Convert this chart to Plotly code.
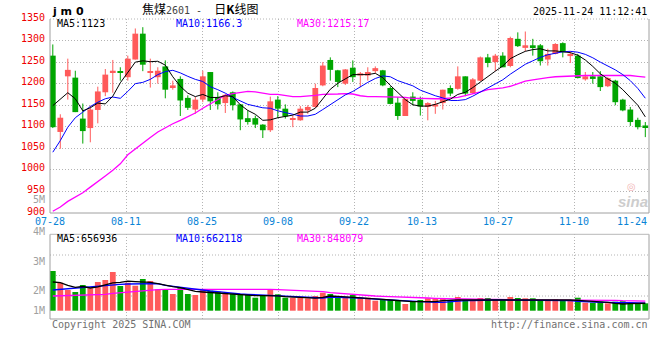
import plotly.graph_objects as go

# ---------------- data ----------------
tick_labels = ["07-28", "08-11", "08-25", "09-08", "09-22", "10-13", "10-27", "11-10", "11-24"]
tick_index = [0, 10, 20, 30, 40, 49, 59, 69, 79]

open_ = [1265, 1088, 1217, 1214, 1119, 1097, 1139, 1180, 1227, 1227,
         1215, 1256, 1316, 1225, 1215, 1240, 1190, 1211, 1167, 1140,
         1163, 1227, 1169, 1155, 1180, 1152, 1120, 1120, 1105, 1092,
         1163, 1142, 1116, 1115, 1138, 1146, 1196, 1255, 1231, 1200,
         1237, 1219, 1219, 1229, 1231, 1190, 1156, 1125, 1170, 1163,
         1146, 1147, 1155, 1190, 1188, 1217, 1178, 1207, 1261, 1250,
         1265, 1241, 1304, 1283, 1289, 1289, 1256, 1269, 1294, 1264,
         1265, 1210, 1217, 1217, 1194, 1207, 1163, 1140, 1116, 1103]
high = [1291, 1129, 1258, 1230, 1154, 1149, 1193, 1234, 1255, 1238,
        1265, 1328, 1331, 1258, 1238, 1254, 1207, 1217, 1173, 1169,
        1230, 1227, 1180, 1176, 1182, 1152, 1138, 1126, 1106, 1170,
        1171, 1152, 1126, 1148, 1150, 1200, 1250, 1261, 1232, 1234,
        1254, 1227, 1238, 1240, 1232, 1194, 1169, 1165, 1180, 1170,
        1157, 1160, 1186, 1196, 1240, 1217, 1213, 1263, 1269, 1269,
        1273, 1309, 1319, 1321, 1304, 1292, 1281, 1294, 1296, 1275,
        1269, 1227, 1227, 1229, 1215, 1209, 1165, 1146, 1121, 1111]
low = [1097, 1049, 1163, 1134, 1061, 1064, 1108, 1171, 1179, 1207,
       1207, 1256, 1229, 1191, 1200, 1166, 1186, 1125, 1139, 1130,
       1157, 1139, 1140, 1132, 1138, 1092, 1105, 1097, 1074, 1088,
       1120, 1119, 1099, 1114, 1130, 1144, 1194, 1207, 1192, 1197,
       1204, 1192, 1207, 1224, 1194, 1152, 1116, 1125, 1150, 1126,
       1115, 1130, 1140, 1171, 1186, 1171, 1176, 1206, 1238, 1229,
       1238, 1238, 1285, 1275, 1265, 1242, 1242, 1268, 1261, 1248,
       1212, 1207, 1200, 1183, 1192, 1150, 1136, 1102, 1094, 1076]
close = [1099, 1121, 1232, 1134, 1090, 1140, 1182, 1221, 1230, 1226,
         1258, 1316, 1244, 1228, 1230, 1186, 1196, 1161, 1144, 1163,
         1217, 1159, 1152, 1174, 1150, 1117, 1111, 1105, 1092, 1159,
         1142, 1124, 1118, 1142, 1146, 1190, 1242, 1232, 1204, 1233,
         1215, 1224, 1227, 1236, 1196, 1153, 1125, 1165, 1160, 1147,
         1155, 1152, 1186, 1177, 1217, 1177, 1210, 1261, 1248, 1265,
         1238, 1306, 1287, 1289, 1285, 1252, 1269, 1292, 1273, 1269,
         1213, 1217, 1211, 1192, 1213, 1157, 1138, 1111, 1099, 1099]

ma5 = [1149, 1163, 1179, 1165, 1137, 1144, 1155, 1153, 1171, 1202,
       1225, 1250, 1253, 1251, 1252, 1243, 1216, 1194, 1178, 1170,
       1175, 1168, 1168, 1172, 1170, 1151, 1138, 1129, 1115, 1116,
       1121, 1124, 1127, 1134, 1134, 1143, 1166, 1187, 1201, 1212,
       1221, 1221, 1221, 1224, 1214, 1196, 1179, 1163, 1151, 1148,
       1148, 1152, 1158, 1164, 1175, 1180, 1191, 1204, 1218, 1229,
       1241, 1258, 1267, 1275, 1279, 1281, 1276, 1276, 1274, 1272,
       1266, 1255, 1240, 1223, 1211, 1201, 1186, 1168, 1150, 1123]
ma10 = [1041, 1068, 1099, 1121, 1134, 1147, 1157, 1165, 1169, 1166,
        1182, 1200, 1203, 1210, 1221, 1228, 1231, 1225, 1217, 1210,
        1205, 1193, 1186, 1178, 1168, 1160, 1152, 1148, 1144, 1143,
        1137, 1133, 1129, 1125, 1125, 1129, 1140, 1152, 1164, 1174,
        1182, 1193, 1203, 1212, 1218, 1216, 1207, 1201, 1195, 1185,
        1178, 1172, 1167, 1161, 1161, 1163, 1171, 1181, 1189, 1200,
        1209, 1222, 1233, 1245, 1253, 1261, 1267, 1271, 1274, 1275,
        1273, 1268, 1260, 1250, 1241, 1232, 1221, 1207, 1189, 1166.3]
ma30 = [904, 914, 927, 937, 947, 960, 972, 986, 999, 1014,
        1035, 1049, 1061, 1075, 1088, 1098, 1107, 1115, 1124, 1132,
        1143, 1153, 1165, 1173, 1177, 1180, 1182, 1181, 1178, 1175,
        1175, 1173, 1170, 1170, 1171, 1173, 1175, 1175, 1176, 1177,
        1176, 1172, 1170, 1170, 1170, 1169, 1169, 1168, 1166, 1166,
        1165, 1165, 1165, 1166, 1168, 1172, 1176, 1181, 1186, 1188,
        1190, 1194, 1200, 1206, 1209, 1212, 1214, 1216, 1217, 1217,
        1218, 1219, 1219, 1219, 1219, 1219, 1219, 1219, 1217, 1215.17]

volume = [3494000, 2464000, 1822000, 1646000, 2262000, 1971000, 2526000, 2702000, 3406000, 2174000,
          2464000, 2200000, 2790000, 2614000, 1883000, 1883000, 1470000, 2059000, 1470000, 1382000,
          1883000, 1760000, 1672000, 1531000, 1470000, 1443000, 1382000, 1144000, 1320000, 1883000,
          1443000, 1144000, 1144000, 1179000, 1091000, 1294000, 1584000, 1470000, 1232000, 1232000,
          1382000, 1144000, 1144000, 880000, 1003000, 942000, 942000, 590000, 854000, 942000,
          1091000, 1091000, 1091000, 942000, 1206000, 942000, 942000, 1118000, 1118000, 942000,
          942000, 1206000, 1118000, 1091000, 1091000, 942000, 942000, 1003000, 880000, 880000,
          1144000, 704000, 704000, 792000, 651000, 792000, 836000, 704000, 651000, 651000]
vol_ma5 = [2526000, 2464000, 2235000, 2059000, 2130000, 2000000, 2100000, 2250000, 2450000, 2500000,
           2600000, 2560000, 2560000, 2500000, 2380000, 2235000, 2112000, 2024000, 1883000, 1700000,
           1646000, 1600000, 1550000, 1500000, 1460000, 1400000, 1350000, 1330000, 1330000, 1320000,
           1300000, 1230000, 1200000, 1160000, 1100000, 1110000, 1180000, 1294000, 1267000, 1232000,
           1206000, 1144000, 1118000, 1056000, 1003000, 942000, 880000, 827000, 792000, 792000,
           792000, 792000, 880000, 942000, 942000, 942000, 942000, 942000, 942000, 942000,
           942000, 942000, 1003000, 1003000, 1003000, 1003000, 942000, 942000, 942000, 942000,
           915000, 880000, 827000, 792000, 739000, 651000, 590000, 616000, 651000, 656936]
vol_ma10 = [1822000, 1883000, 1910000, 1971000, 2024000, 2112000, 2200000, 2235000, 2262000, 2323000,
            2350000, 2350000, 2350000, 2411000, 2376000, 2235000, 2147000, 2059000, 1936000, 1883000,
            1822000, 1734000, 1672000, 1584000, 1531000, 1470000, 1443000, 1408000, 1382000, 1355000,
            1320000, 1267000, 1267000, 1206000, 1179000, 1144000, 1118000, 1206000, 1188000, 1179000,
            1144000, 1118000, 1056000, 1003000, 968000, 942000, 915000, 880000, 827000, 766000,
            739000, 739000, 739000, 792000, 880000, 880000, 880000, 915000, 942000, 942000,
            942000, 942000, 915000, 880000, 880000, 880000, 880000, 880000, 880000, 880000,
            827000, 792000, 739000, 739000, 739000, 704000, 704000, 704000, 678000, 662118]
vol_ma30 = [1294000, 1320000, 1320000, 1355000, 1364000, 1382000, 1408000, 1443000, 1531000, 1584000,
            1646000, 1734000, 1795000, 1822000, 1848000, 1883000, 1883000, 1910000, 1910000, 1936000,
            1936000, 1936000, 1936000, 1936000, 1936000, 1936000, 1936000, 1936000, 1910000, 1883000,
            1848000, 1822000, 1795000, 1760000, 1734000, 1707000, 1672000, 1584000, 1531000, 1470000,
            1408000, 1355000, 1320000, 1294000, 1267000, 1232000, 1206000, 1179000, 1144000, 1118000,
            1118000, 1091000, 1056000, 1056000, 1030000, 1030000, 1003000, 1003000, 1003000, 1003000,
            968000, 950000, 950000, 950000, 950000, 950000, 950000, 950000, 950000, 942000,
            942000, 942000, 942000, 915000, 915000, 915000, 880000, 880000, 880000, 848079]

price_ticks = [900, 950, 1000, 1050, 1100, 1150, 1200, 1250, 1300, 1350]
vol_tick_labels = ["5M", "4M", "3M", "2M", "1M"]

# ---------------- layout constants (pixels) ----------------
W, H = 660, 360
PLOT_L, PLOT_R, PLOT_T, PLOT_B = 50, 649, 19, 319
PRICE_BOTTOM = 213.0
VOL_TOP = 234.3
VOL_BASE = 310.7          # pixel row of the volume zero line
VOL_PX = 88000            # volume units per pixel
SLOT = 7.5                # candle spacing (px)
GRID_SLOT = 7.6           # date grid spacing (px per trading day)
FIRST_CENTER = 52.8
VOL_LABEL_Y = [200, 231, 261, 290, 310]
VOL_GRID_Y = [255, 275.5, 296]

RED = "#FF5A5A"
GREEN = "#00A600"
GRID = "#B4B4B4"
FRAME = "#A0A0A0"
MONO = "DejaVu Sans Mono"

PW = PLOT_R - PLOT_L
PH = PLOT_B - PLOT_T


def pxx(x):
    return (x - PLOT_L) / PW


def pxy(y):
    return (PLOT_B - y) / PH


n = len(close)
xs = list(range(n))
x0 = (PLOT_L - FIRST_CENTER) / SLOT
x1 = x0 + PW / SLOT
grid_x = [x0 + k * GRID_SLOT / SLOT for k in tick_index]

price_dom = [pxy(PRICE_BOTTOM), 1.0]
vol_dom = [0.0, pxy(VOL_TOP)]
vol_range = [-(PLOT_B - VOL_BASE) * VOL_PX, (VOL_BASE - VOL_TOP) * VOL_PX]

is_up = [c >= o for o, c in zip(open_, close)]
MIN_BODY = 2.4
body_base, body_h = [], []
for o, c in zip(open_, close):
    d = abs(c - o)
    h = max(d, MIN_BODY)
    body_base.append(min(o, c) - (h - d) / 2)
    body_h.append(h)
colors = [RED if u else GREEN for u in is_up]

fig = go.Figure()

# wicks
for flag, col in ((True, RED), (False, GREEN)):
    wx, wy = [], []
    for i in range(n):
        if is_up[i] == flag:
            wx += [i, i, None]
            wy += [low[i], high[i], None]
    fig.add_trace(go.Scatter(x=wx, y=wy, mode="lines", line=dict(color=col, width=1),
                             xaxis="x", yaxis="y", hoverinfo="skip"))

# bodies
fig.add_trace(go.Bar(x=xs, y=body_h, base=body_base, width=0.77,
                     marker=dict(color=colors, line=dict(width=0)),
                     xaxis="x", yaxis="y", hoverinfo="skip"))

# price MAs
for vals, col, w in ((ma30, "#FF00FF", 1.3), (ma10, "#0000FF", 1), (ma5, "#000000", 1)):
    fig.add_trace(go.Scatter(x=xs, y=vals, mode="lines", line=dict(color=col, width=w),
                             xaxis="x", yaxis="y", hoverinfo="skip"))

# volume
fig.add_trace(go.Bar(x=xs, y=volume, width=0.77,
                     marker=dict(color=colors, line=dict(width=0)),
                     xaxis="x2", yaxis="y2", hoverinfo="skip"))
for vals, col in ((vol_ma30, "#FF00FF"), (vol_ma10, "#0000FF"), (vol_ma5, "#000000")):
    fig.add_trace(go.Scatter(x=xs, y=vals, mode="lines", line=dict(color=col, width=1.3),
                             xaxis="x2", yaxis="y2", hoverinfo="skip"))

dot = "1px,2px"
axis_common = dict(range=[x0, x1], tickvals=grid_x, showticklabels=False, ticks="",
                   showgrid=True, gridcolor=GRID, gridwidth=1, griddash=dot,
                   zeroline=False, showline=False, fixedrange=True)

fig.update_layout(
    width=W, height=H,
    margin=dict(l=PLOT_L, r=W - PLOT_R, t=PLOT_T, b=H - PLOT_B, pad=0),
    paper_bgcolor="white", plot_bgcolor="white",
    showlegend=False, barmode="overlay", hovermode=False,
    xaxis=dict(domain=[0, 1], anchor="y", **axis_common),
    xaxis2=dict(domain=[0, 1], anchor="y2", **axis_common),
    yaxis=dict(domain=price_dom, range=[price_ticks[0], price_ticks[-1]],
               tickvals=price_ticks[1:-1], showticklabels=False, ticks="",
               showgrid=True, gridcolor=GRID, gridwidth=1, griddash=dot,
               zeroline=False, showline=False, fixedrange=True),
    yaxis2=dict(domain=vol_dom, range=vol_range, showticklabels=False, ticks="",
                showgrid=False, zeroline=False, showline=False, fixedrange=True),
)

shapes = []


def seg(xa, ya, xb, yb, color=FRAME, dash="solid", width=1):
    shapes.append(dict(type="line", xref="paper", yref="paper", x0=xa, y0=ya, x1=xb, y1=yb,
                       line=dict(color=color, width=width, dash=dash), layer="above"))


# price frame
seg(0, price_dom[0], 0, 1)
seg(1, price_dom[0], 1, 1)
seg(0, price_dom[0], 1, price_dom[0])
seg(0, 1, 1, 1, color=GRID, dash=dot)
# volume frame + grid
seg(0, 0, 0, vol_dom[1])
seg(1, 0, 1, vol_dom[1])
seg(0, 0, 1, 0)
seg(0, vol_dom[1], 1, vol_dom[1], color="#B8B8B8")
for gy in VOL_GRID_Y:
    shapes.append(dict(type="line", xref="paper", yref="paper", x0=0, x1=1, y0=pxy(gy), y1=pxy(gy),
                       line=dict(color=GRID, width=1, dash=dot), layer="below"))
fig.update_layout(shapes=shapes)

ann = []


def text(x, y, s, color="#000", size=10, family=MONO, xanchor="left", xref="paper", yref="paper",
         yshift=0):
    ann.append(dict(x=x, y=y, xref=xref, yref=yref, text=s, showarrow=False,
                    xanchor=xanchor, yanchor="middle", yshift=yshift,
                    font=dict(color=color, size=size, family=family)))


# price labels
for p in price_ticks:
    text(pxx(46.5), p, str(p), color="#EE0000", xanchor="right", yref="y", yshift=2)
# volume labels
for lab, yy in zip(vol_tick_labels, VOL_LABEL_Y):
    text(pxx(46.5), pxy(yy), lab, color="#A0A0A0", xanchor="right")
# date labels
for lab, gx in zip(tick_labels, grid_x):
    if gx + 2.0 > x1:
        text(x1, pxy(221.7), lab, color="#0A84D6", xanchor="right", xref="x")
    else:
        text(gx, pxy(221.7), lab, color="#0A84D6", xanchor="center", xref="x")


def fmt(v):
    return f"{v:g}"


# MA texts
text(pxx(55), pxy(23.5), f"MA5:{fmt(ma5[-1])}", color="#000000")
text(pxx(174), pxy(23.5), f"MA10:{fmt(ma10[-1])}", color="#0000FF")
text(pxx(294.5), pxy(23.5), f"MA30:{fmt(ma30[-1])}", color="#FF00FF")
text(pxx(55), pxy(238.3), f"MA5:{vol_ma5[-1]}", color="#000000")
text(pxx(174), pxy(238.3), f"MA10:{vol_ma10[-1]}", color="#0000FF")
text(pxx(294.5), pxy(238.3), f"MA30:{vol_ma30[-1]}", color="#FF00FF")

# header
text(pxx(50), pxy(12), "<b>j m 0</b>", size=11, family="DejaVu Sans")
text(pxx(140), pxy(9),
     "焦煤<span style=\"font-family:'DejaVu Sans Mono';font-size:10px;color:#444\">2601\u00a0-\u00a0\u00a0</span>日<b>K</b>线图",
     size=12, family="Noto Sans CJK SC")
text(pxx(648.5), pxy(11), "2025-11-24 11:12:41", xanchor="right")

# footer
text(pxx(49.5), pxy(324), "Copyright 2025 SINA.COM", color="#707070")
text(pxx(649.5), pxy(324), "http://finance.sina.com.cn", color="#707070", xanchor="right")

# watermark
text(pxx(631), pxy(186.5), "◎", color="#F2B6B6", size=10, family="DejaVu Sans", xanchor="center")
text(pxx(633), pxy(201), "<b><i>sina</i></b>", color="#CDCDCD", size=15, family="Liberation Sans",
     xanchor="center")

fig.update_layout(annotations=ann)

fig.write_html("out.html", config={"displayModeBar": False},
               post_script="document.body.style.margin='0';document.body.style.padding='0';")
